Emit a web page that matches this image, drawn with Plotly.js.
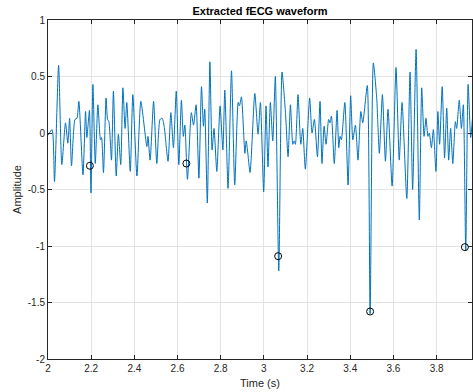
<!DOCTYPE html>
<html>
<head>
<meta charset="utf-8">
<script src="https://cdn.plot.ly/plotly-3.0.1.min.js"></script>
<style>html,body{margin:0;padding:0;background:#fff;}#chart{width:473px;height:392px;}</style>
</head>
<body>
<div id="chart"></div>
<script>
// Extracted fECG waveform (turning points)
const timeS = [
2.000,2.019,2.030,2.049,2.064,2.081,2.092,2.100,2.109,2.125,2.134,2.143,2.162,2.174,2.180,2.192,2.199,2.208,2.219,2.231,2.243,2.248,2.257,
2.269,2.276,2.282,2.294,2.303,2.316,2.326,2.337,2.347,2.357,2.365,2.381,2.393,2.412,2.430,2.458,2.463,2.473,2.489,
2.504,2.519,2.529,2.538,2.556,2.569,2.581,2.594,2.606,2.618,2.627,2.634,2.646,2.664,2.674,2.686,2.699,2.711,2.720,2.726,2.738,2.750,
2.760,2.769,2.782,2.797,2.810,2.819,2.834,2.850,2.865,2.881,2.887,2.896,2.912,2.918,2.924,2.936,2.958,2.973,2.984,2.999,
3.010,3.019,3.030,3.041,3.053,3.069,3.084,3.100,3.112,3.123,3.134,3.140,3.146,3.158,3.171,3.180,3.192,3.212,3.223,3.234,3.248,
3.260,3.269,3.279,3.288,3.300,3.306,3.313,3.326,3.339,3.347,3.353,3.359,3.375,3.390,3.402,3.412,3.424,3.436,3.449,3.458,3.479,3.492,
3.507,3.523,3.527,3.535,3.549,3.563,3.575,3.594,3.612,3.627,3.640,3.662,3.677,3.689,3.705,3.720,3.731,3.742,
3.751,3.760,3.766,3.776,3.785,3.797,3.806,3.814,3.826,3.837,3.847,3.856,3.865,3.875,3.887,3.893,3.905,3.915,3.924,3.935,3.946,3.958,3.967
];
const amplitude = [
-0.02,0.03,-0.43,0.60,-0.28,0.09,-0.09,0.13,-0.29,0.12,0.13,0.28,-0.37,0.19,-0.04,0.20,-0.53,0.43,-0.27,0.25,-0.06,-0.04,-0.35,
0.31,0.12,0.10,-0.24,0.37,-0.38,-0.01,-0.28,0.40,0.04,0.27,-0.34,0.34,-0.38,0.28,-0.12,-0.03,-0.24,0.28,
-0.27,0.12,0.13,0.06,-0.25,0.18,-0.13,0.37,-0.28,0.29,-0.03,0.07,-0.41,0.18,0.07,0.25,-0.40,0.41,0.06,0.21,-0.62,0.63,
-0.15,0.04,-0.34,0.24,-0.15,0.38,-0.49,0.55,-0.46,0.27,0.24,0.32,-0.18,-0.07,-0.15,-0.35,0.35,-0.01,0.27,-0.52,
0.24,-0.30,0.27,-0.07,0.50,-1.22,0.54,0.18,-0.21,0.25,-0.10,-0.07,-0.10,0.34,-0.10,0.04,-0.32,0.31,0.00,0.12,-0.21,
0.28,-0.27,0.06,-0.10,0.12,0.09,0.15,-0.27,0.20,-0.13,-0.03,-0.06,0.27,-0.46,0.33,-0.06,0.07,-0.24,0.19,0.09,0.42,-1.60,
0.62,0.30,0.12,-0.18,0.34,-0.25,0.21,-0.47,0.58,-0.24,0.27,-0.58,0.54,-0.50,0.74,-0.77,0.40,-0.03,
0.13,-0.03,0.00,-0.13,0.03,-0.34,0.19,-0.10,0.41,-0.22,0.22,-0.24,0.04,-0.27,0.10,0.04,0.29,0.04,0.25,-1.04,0.43,-0.04,0.15
];
// Detected R-peaks
const peakTime = [2.194, 2.641, 3.066, 3.492, 3.931];
const peakAmp = [-0.29, -0.27, -1.09, -1.58, -1.01];

const xTickVals = [2, 2.2, 2.4, 2.6, 2.8, 3, 3.2, 3.4, 3.6, 3.8];
const xTickText = ["2", "2.2", "2.4", "2.6", "2.8", "3", "3.2", "3.4", "3.6", "3.8"];
const yTickVals = [-2, -1.5, -1, -0.5, 0, 0.5, 1];
const yTickText = ["-2", "-1.5", "-1", "-0.5", "0", "0.5", "1"];

const font = "Liberation Sans, Arial, Helvetica, sans-serif";
const axisCommon = {
  showline: true, linecolor: "#262626", linewidth: 1, mirror: "ticks",
  ticks: "inside", ticklen: 4, tickcolor: "#262626",
  showgrid: true, gridcolor: "#e3e3e3", gridwidth: 1, zeroline: false,
  tickfont: {family: font, size: 10, color: "#262626"}
};

const traces = [
  {x: timeS, y: amplitude, type: "scatter", mode: "lines",
   line: {color: "#0072BD", width: 1, shape: "spline", smoothing: 0.6}, hoverinfo: "skip"},
  {x: peakTime, y: peakAmp, type: "scatter", mode: "markers",
   marker: {symbol: "circle-open", size: 7, color: "#000000", line: {width: 1, color: "#000000"}}}
];

const layout = {
  width: 473, height: 392,
  margin: {l: 48, r: 1, t: 20, b: 33},
  paper_bgcolor: "#ffffff", plot_bgcolor: "#ffffff",
  showlegend: false,
  title: {text: "<b>Extracted fECG waveform</b>", font: {family: font, size: 11, color: "#000"},
          x: 0.5, xref: "paper", y: 1 - 11/392, yref: "container", yanchor: "middle"},
  xaxis: Object.assign({}, axisCommon, {
    range: [2, 3.964], tickvals: xTickVals, ticktext: xTickText,
    title: {text: "Time (s)", font: {family: font, size: 11, color: "#262626"}, standoff: 6}
  }),
  yaxis: Object.assign({}, axisCommon, {
    range: [-2, 1], tickvals: yTickVals, ticktext: yTickText,
    title: {text: "Amplitude", font: {family: font, size: 11, color: "#262626"}, standoff: 3}
  })
};

Plotly.newPlot("chart", traces, layout, {displayModeBar: false, staticPlot: true});
</script>
</body>
</html>
